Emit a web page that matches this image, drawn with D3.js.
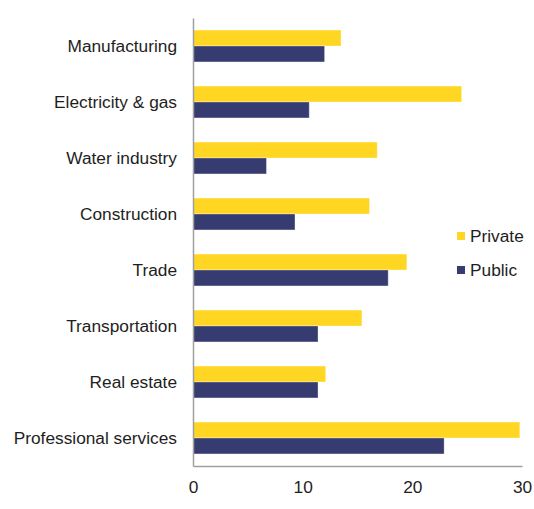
<!DOCTYPE html>
<html>
<head>
<meta charset="utf-8">
<script src="https://cdn.jsdelivr.net/npm/d3@7"></script>
<style>
  body { margin: 0; background: #fff; }
  text { font-family: "Liberation Sans", Arial, sans-serif; }
</style>
</head>
<body>
<div id="chart"></div>
<script>
var categories = ["Manufacturing", "Electricity & gas", "Water industry", "Construction",
                  "Trade", "Transportation", "Real estate", "Professional services"];
var privateValues = [13.5, 24.5, 16.8, 16.1, 19.5, 15.4, 12.1, 29.8];
var publicValues = [12.0, 10.6, 6.7, 9.3, 17.8, 11.4, 11.4, 22.9];
var seriesNames = ["Private", "Public"];
var xTicks = [0, 10, 20, 30];

function base(){
    var w = 534;
    var h = 509;
    var margin = {top: 18, left: 193, right: 12, bottom: 43};
    var colors = ["#ffd621", "#363b70"];
    var fontSize = "17.3px";

    var svg = d3.select("#chart")
                .append("svg")
                .attr("width", w)
                .attr("height", h);

    var x = d3.scaleLinear()
              .domain([0, 30])
              .range([margin.left, 522]);

    var y = d3.scaleBand()
              .domain(categories)
              .range([margin.top, h - margin.bottom])
              .paddingInner(0.43)
              .paddingOuter(0.215);

    var sub = d3.scaleBand()
                .domain(seriesNames)
                .range([0, y.bandwidth()]);

    var rows = categories.map(function(c, i) {
        return {cat: c, vals: [privateValues[i], publicValues[i]]};
    });

    var groups = svg.selectAll("g.cat")
                    .data(rows)
                    .enter()
                    .append("g")
                    .attr("class", "cat")
                    .attr("transform", function(d) { return "translate(0," + y(d.cat) + ")"; });

    groups.selectAll("rect")
          .data(function(d) { return d.vals; })
          .enter()
          .append("rect")
          .attr("x", x(0))
          .attr("y", function(d, i) { return sub(seriesNames[i]); })
          .attr("width", function(d) { return x(d) - x(0); })
          .attr("height", sub.bandwidth())
          .attr("fill", function(d, i) { return colors[i]; })
          .attr("stroke", "#ffffff")
          .attr("stroke-opacity", 0.35)
          .attr("stroke-width", 1);

    // axes
    var yAxis = d3.axisLeft(y).tickSize(0).tickPadding(16);
    var yg = svg.append("g")
       .attr("transform", "translate(" + margin.left + ",0)")
       .call(yAxis);
    yg.select(".domain").attr("stroke", "#a0a0a0").attr("stroke-width", 1.5);
    yg.selectAll("text").attr("font-size", fontSize).attr("fill", "#1e1e1e")
      .style("font-family", "'Liberation Sans', Arial, sans-serif");

    var xAxis = d3.axisBottom(x).tickValues(xTicks).tickSize(0).tickPadding(15);
    var xg = svg.append("g")
       .attr("transform", "translate(0," + (h - margin.bottom) + ")")
       .call(xAxis);
    xg.select(".domain").attr("stroke", "#a0a0a0").attr("stroke-width", 1.5);
    xg.selectAll("text").attr("font-size", fontSize).attr("fill", "#1e1e1e")
      .style("font-family", "'Liberation Sans', Arial, sans-serif");

    // legend
    var legend = svg.selectAll("g.legend")
                    .data(seriesNames)
                    .enter()
                    .append("g")
                    .attr("class", "legend")
                    .attr("transform", function(d, i) { return "translate(457," + (232 + i * 34) + ")"; });
    legend.append("rect")
          .attr("width", 8)
          .attr("height", 8)
          .attr("fill", function(d, i) { return colors[i]; });
    legend.append("text")
          .attr("x", 13)
          .attr("y", 9.5)
          .attr("font-size", fontSize)
          .attr("fill", "#1e1e1e")
          .text(function(d) { return d; });
}

window.onload = base;
</script>
</body>
</html>
